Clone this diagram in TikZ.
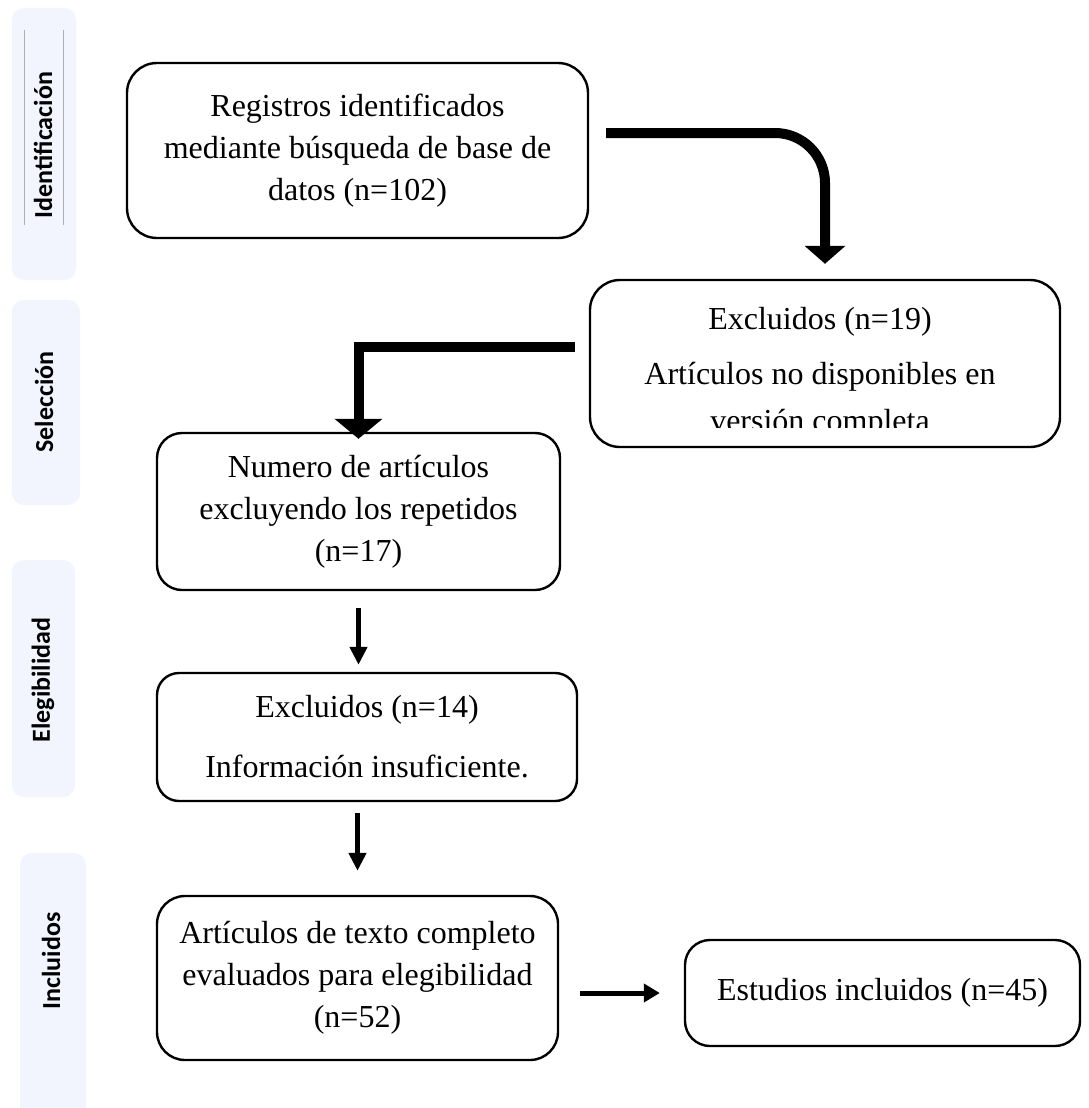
\documentclass[tikz,border=0pt]{standalone}
\usepackage{fontspec}
\setmainfont{Liberation Serif}
\newfontfamily\sidefont{Carlito}
\usetikzlibrary{arrows.meta,calc}
\definecolor{panelblue}{RGB}{242,245,254}
\definecolor{guidegray}{RGB}{175,175,180}
\begin{document}
\begin{tikzpicture}[x=1pt,y=-1pt,
  panel/.style={fill=panelblue, draw=none, rounded corners=12pt, inner sep=0pt},
  sidelabel/.style={rotate=90, inner sep=0pt, font=\sidefont\bfseries\fontsize{26}{30}\selectfont},
  box/.style={draw, line width=2.4pt, rounded corners=28pt, align=center, inner sep=0pt,
    font=\fontsize{32}{42}\selectfont},
  bigarrow/.style={line width=10pt, -{Triangle[width=40pt,length=18pt]}},
  smallarrow/.style={line width=5pt, -{Triangle[width=17pt,length=18pt]}}
]
\useasboundingbox[fill=white] (0,0) rectangle (1088,1108);

% side panels
\node[panel, minimum width=64pt, minimum height=272pt] (p1) at (44,144) {};
\node[panel, minimum width=68pt, minimum height=205pt] (p2) at (46,402.5) {};
\node[panel, minimum width=63pt, minimum height=237pt] (p3) at (43.5,678.5) {};
\node[panel, minimum width=66pt, minimum height=270pt] (p4) at (53,988) {};
\draw[guidegray, line width=0.8pt] (24,30) -- (24,225) (63,30) -- (63,225);
\node[sidelabel] (l1) at (43,145) {Identificación};
\node[sidelabel] (l2) at (44,402) {Selección};
\node[sidelabel] (l3) at (43,680) {Elegibilidad};
\node[sidelabel] (l4) at (51,961) {Incluidos};

% main boxes
\node[box, rounded corners=30pt, minimum width=461pt, minimum height=175pt] (A) at (357.5,150.5)
  {Registros identificados\\mediante búsqueda de base de\\datos (n=102)};
\node[box, rounded corners=30pt, minimum width=470pt, minimum height=167pt] (B) at (825,363.5) {};
\begin{scope}
  \clip (590,280) rectangle (1060,427);
  \node[align=center, inner sep=0pt, anchor=north, font=\fontsize{32}{42}\selectfont] (Bt) at (820,307)
    {Excluidos (n=19)\\[13pt]Artículos no disponibles en\\[5pt]versión completa};
\end{scope}
\node[box, rounded corners=25pt, minimum width=403pt, minimum height=157pt] (C) at (358.5,511.5)
  {Numero de artículos\\excluyendo los repetidos\\(n=17)};
\node[box, rounded corners=22pt, minimum width=420pt, minimum height=128pt] (D) at (367,737)
  {Excluidos (n=14)\\[18pt]Información insuficiente.};
\node[box, rounded corners=28pt, minimum width=401pt, minimum height=164pt] (E) at (357.5,978)
  {Artículos de texto completo\\evaluados para elegibilidad\\(n=52)};
\node[box, rounded corners=25pt, minimum width=395pt, minimum height=106pt] (F) at (882.5,993)
  {Estudios incluidos (n=45)};

% connectors
\draw[bigarrow, rounded corners=50pt, shorten <=17pt, shorten >=15pt]
  ($(A.east)+(0,-17.5)$) -| (B.north);
\draw[line width=10pt, -{Triangle[width=47pt,length=20pt]}, shorten <=14pt, shorten >=-7pt]
  ($(B.west)+(0,-16.5)$) -| (C.north);
\draw[smallarrow, shorten <=17pt, shorten >=7pt] (C.south) -- (C.south |- D.north);
\draw[smallarrow, shorten <=11pt, shorten >=24pt] (E.north |- D.south) -- (E.north);
\draw[line width=5pt, -{Triangle[width=18pt,length=16pt]}, shorten <=21pt, shorten >=24pt]
  (E.east |- F.west) -- (F.west);
\end{tikzpicture}
\end{document}
